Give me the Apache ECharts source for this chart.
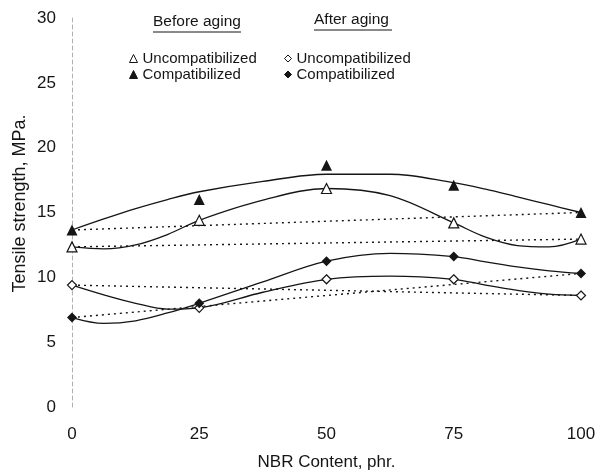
<!DOCTYPE html>
<html>
<head>
<meta charset="utf-8">
<script src="https://cdn.jsdelivr.net/npm/echarts@6/dist/echarts.min.js"></script>
<style>
html,body{margin:0;padding:0;background:#fff;}
#chart{width:597px;height:471px;}
</style>
</head>
<body>
<div id="chart"></div>
<script>
// ---- data ----
const nbrContent = [0, 25, 50, 75, 100];
const beforeUncomp = [12.35, 14.4, 16.85, 14.2, 12.95];
const beforeComp = [13.65, 16.0, 18.65, 17.1, 15.0];
const afterUncomp = [9.4, 7.65, 9.85, 9.85, 8.6];
const afterComp = [6.9, 8.0, 11.25, 11.6, 10.3];

// smooth trend curves as drawn in the figure
const curveX = [0, 6.25, 12.5, 18.75, 25, 37.5, 50, 62.5, 75, 81.25, 87.5, 93.75, 100];
const curveBeforeUncomp = [12.35, 12.2, 12.5, 13.3, 14.4, 15.95, 16.85, 16.3, 14.2, 13.1, 12.45, 12.35, 12.95];
const curveBeforeComp = [13.65, 14.5, 15.3, 16.0, 16.6, 17.4, 17.95, 17.95, 17.3, 16.8, 16.2, 15.6, 15.0];
const curveAfterUncomp = [9.4, 8.65, 8.0, 7.55, 7.65, 8.85, 9.85, 10.1, 9.85, 9.4, 9.0, 8.7, 8.6];
const curveAfterComp = [6.9, 6.45, 6.65, 7.25, 8.0, 9.65, 11.25, 11.85, 11.6, 11.2, 10.8, 10.5, 10.3];

const yTicks = [0, 5, 10, 15, 20, 25, 30];
const xTicks = [0, 25, 50, 75, 100];

const seriesNames = {
  bu: 'Before: Uncompatibilized',
  bc: 'Before: Compatibilized',
  au: 'After: Uncompatibilized',
  ac: 'After: Compatibilized'
};

// ---- build ----
const FONT = '"Liberation Sans", Arial, sans-serif';
const INK = '#151515';
const pairs = (xs, ys) => xs.map((x, i) => [x, ys[i]]);
const ends = (ys) => [[nbrContent[0], ys[0]], [nbrContent[nbrContent.length - 1], ys[ys.length - 1]]];

function curve(ys) {
  return {
    type: 'line', data: pairs(curveX, ys), smooth: 0.35, symbol: 'none', silent: true,
    lineStyle: { color: INK, width: 1.3 }, z: 2
  };
}
function dotted(ys) {
  return {
    type: 'line', data: ends(ys), symbol: 'none', silent: true,
    lineStyle: { color: INK, width: 1.4, type: [2, 4] }, z: 1
  };
}
function marks(name, ys, symbol, filled, size) {
  return {
    name, type: 'scatter', data: pairs(nbrContent, ys), symbol, symbolSize: size,
    itemStyle: { color: filled ? INK : '#fff', borderColor: INK, borderWidth: filled ? 0 : 1.2, opacity: 1 },
    z: 5
  };
}

const chart = echarts.init(document.getElementById('chart'), null, { renderer: 'canvas' });
const legendText = { fontSize: 15, fontFamily: FONT, color: INK, lineHeight: 13 };
chart.setOption({
  backgroundColor: '#fff',
  animation: false,
  grid: { left: 72, right: 16, top: 18, bottom: 64, containLabel: false, outerBoundsMode: 'none' },
  xAxis: {
    type: 'value', min: xTicks[0], max: xTicks[xTicks.length - 1], interval: 25,
    name: 'NBR Content, phr.', nameLocation: 'middle', nameGap: 47, nameMoveOverlap: false,
    nameTextStyle: { fontSize: 17, fontFamily: FONT, color: INK },
    axisLine: { show: false }, axisTick: { show: false }, splitLine: { show: false },
    axisLabel: { fontSize: 17, fontFamily: FONT, color: INK, margin: 19 }
  },
  yAxis: {
    type: 'value', min: yTicks[0], max: yTicks[yTicks.length - 1], interval: 5,
    name: 'Tensile strength, MPa.', nameLocation: 'middle', nameGap: 43, nameMoveOverlap: false,
    nameTextStyle: { fontSize: 18, fontFamily: FONT, color: INK, padding: [0, 0, 0, 18] },
    axisLine: { show: true, lineStyle: { color: '#b0b0b0', width: 1, type: [4, 3] } },
    axisTick: { show: false }, splitLine: { show: false },
    axisLabel: { fontSize: 17, fontFamily: FONT, color: INK, margin: 16, align: 'right' }
  },
  legend: [
    {
      left: 129, top: 51, orient: 'vertical', itemGap: 1, itemWidth: 8, itemHeight: 8,
      selectedMode: false, padding: 0, itemStyle: { borderWidth: 1 },
      data: [seriesNames.bu, seriesNames.bc],
      formatter: (n) => n.split(': ')[1], textStyle: legendText
    },
    {
      left: 284, top: 51, orient: 'vertical', itemGap: 1, itemWidth: 7, itemHeight: 7,
      selectedMode: false, padding: 0, itemStyle: { borderWidth: 1 },
      data: [seriesNames.au, seriesNames.ac],
      formatter: (n) => n.split(': ')[1], textStyle: legendText
    }
  ],
  graphic: [
    { type: 'text', left: 153, top: 14, style: { text: 'Before aging', font: '15.5px ' + FONT, fill: INK } },
    { type: 'line', shape: { x1: 153, y1: 32, x2: 241, y2: 32 }, style: { stroke: INK, lineWidth: 1 } },
    { type: 'text', left: 314, top: 12, style: { text: 'After aging', font: '15.5px ' + FONT, fill: INK } },
    { type: 'line', shape: { x1: 314, y1: 30, x2: 392, y2: 30 }, style: { stroke: INK, lineWidth: 1 } }
  ],
  series: [
    curve(curveBeforeUncomp), curve(curveBeforeComp), curve(curveAfterUncomp), curve(curveAfterComp),
    dotted(beforeUncomp), dotted(beforeComp), dotted(afterUncomp), dotted(afterComp),
    marks(seriesNames.bu, beforeUncomp, 'triangle', false, 10),
    marks(seriesNames.bc, beforeComp, 'triangle', true, 11),
    marks(seriesNames.au, afterUncomp, 'diamond', false, 9),
    marks(seriesNames.ac, afterComp, 'diamond', true, 10)
  ]
});
</script>
</body>
</html>
